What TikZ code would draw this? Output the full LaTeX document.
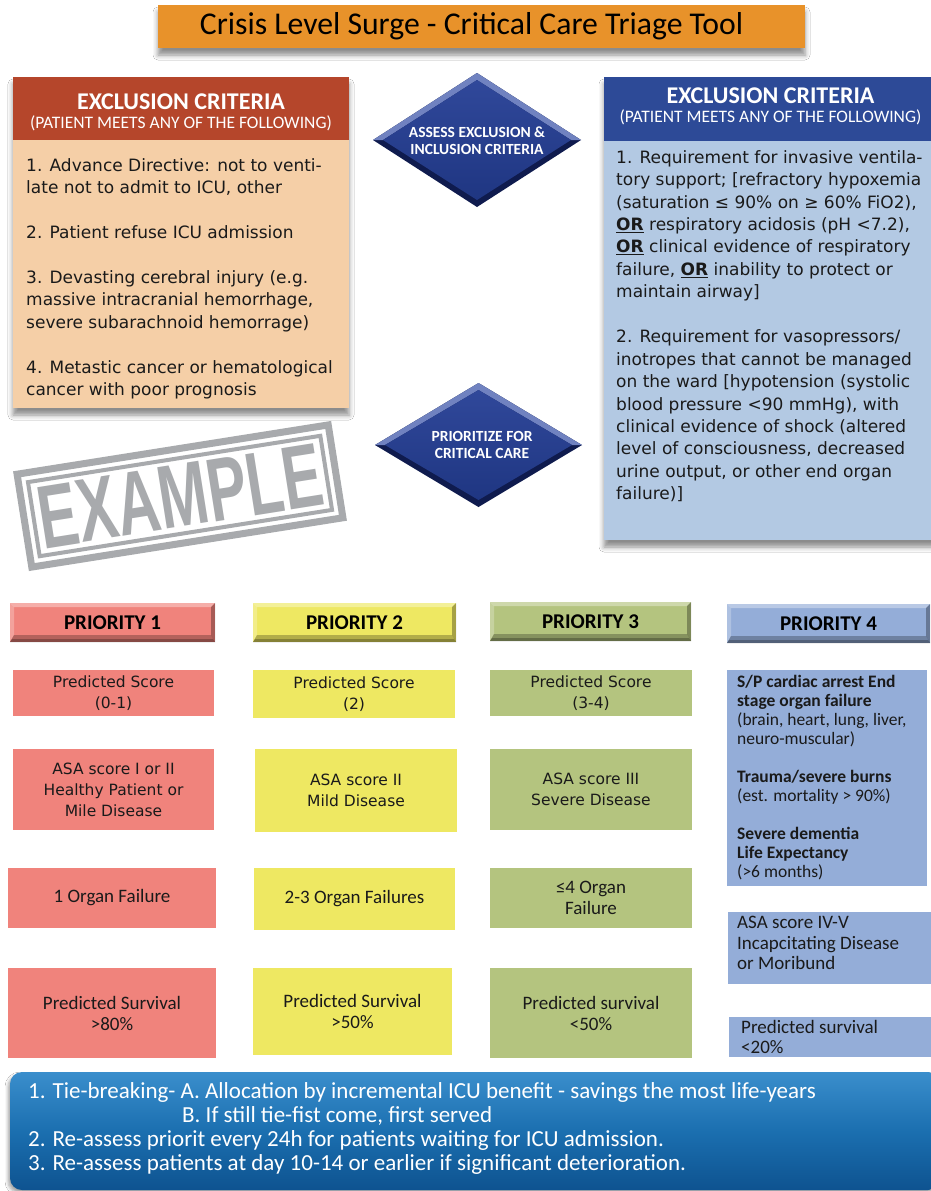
\documentclass[tikz,border=0pt]{standalone}
\usepackage{fontspec}
\setmainfont{Carlito}
\newfontfamily\dvs{DejaVu Sans}
\newfontfamily\stampfont[FakeStretch=0.66]{Liberation Sans}
\usetikzlibrary{shapes.geometric,shadows.blur}
\definecolor{titleor}{HTML}{E8922A}
\definecolor{lhead}{HTML}{B5462B}
\definecolor{lbody}{HTML}{F5CFA7}
\definecolor{rhead}{HTML}{2D4A97}
\definecolor{rbody}{HTML}{B3C9E3}
\definecolor{dmidtop}{HTML}{30489A}
\definecolor{dmidbot}{HTML}{1F3682}
\definecolor{dlight}{HTML}{7082C0}
\definecolor{ddark}{HTML}{0F1B4E}
\definecolor{pone}{HTML}{F0837C}
\definecolor{ptwo}{HTML}{EEE862}
\definecolor{pthree}{HTML}{B4C47F}
\definecolor{pfour}{HTML}{94ADD8}
\definecolor{stampgray}{HTML}{A8AAAD}
\definecolor{txt}{HTML}{1A1A1A}
\definecolor{notetop}{HTML}{3A8ECC}
\definecolor{notemid}{HTML}{1B6FB0}
\definecolor{notebot}{HTML}{0E5390}
\newcommand{\ORu}{\underline{\textbf{OR}}}
\begin{document}
\begin{tikzpicture}[x=1pt,y=-1pt,
  plain/.style={inner sep=0pt, outer sep=0pt, draw=none},
  shad/.style={blur shadow={shadow xshift=0pt, shadow yshift=-7pt, shadow blur radius=5pt, shadow opacity=45}},
  hdtitle/.style={inner sep=0pt, text=white, font=\fontsize{24}{28}\selectfont\bfseries},
  hdsub/.style={inner sep=0pt, text=white, font=\fontsize{17.5}{20}\selectfont},
  body/.style={inner sep=0pt, align=left, text=txt, font=\dvs\fontsize{17}{22.45}\selectfont},
  dtext/.style={inner sep=0pt, align=center, text=white, font=\fontsize{15.5}{16.5}\selectfont\bfseries},
  phead/.style={plain, minimum height=39pt, text=black, font=\fontsize{21}{24}\selectfont\bfseries},
  cellA/.style={plain, align=center, text=txt, font=\dvs\fontsize{15.5}{21}\selectfont},
  cellB/.style={plain, align=center, text=txt, font=\fontsize{19}{21}\selectfont},
  pfourtxt/.style={inner sep=0pt, align=left, text=txt, anchor=west},
  notetxt/.style={inner sep=0pt, align=left, text=white, anchor=west, font=\fontsize{23}{24.3}\selectfont}]
\useasboundingbox[fill=white] (0,0) rectangle (931,1191);

% title
\node[plain, fill=titleor, minimum width=647pt, minimum height=43pt, shad] (title) at (481.5,26.5) {};
\node[inner sep=0pt, font=\fontsize{31.7}{34}\selectfont, text=black] (titletxt) at (471.5,26.5) {Crisis Level Surge - Critical Care Triage Tool};

% left box
\node[plain, fill=lbody, minimum width=336pt, minimum height=331pt, shad] (lbox) at (181,242.5) {};
\node[plain, fill=lhead, minimum width=336pt, minimum height=63pt, anchor=north] (lhd) at (lbox.north) {};
\node[hdtitle] (lt1) at (181,102) {EXCLUSION CRITERIA};
\node[hdsub] (lt2) at (181,123) {(PATIENT MEETS ANY OF THE FOLLOWING)};
\node[body, anchor=north west] (ltx) at (26,158) {1. Advance Directive: not to venti-\\late not to admit to ICU, other\\[22.45pt]2. Patient refuse ICU admission\\[22.45pt]3. Devasting cerebral injury (e.g.\\massive intracranial hemorrhage,\\severe subarachnoid hemorrage)\\[22.45pt]4. Metastic cancer or hematological\\cancer with poor prognosis};

% right box
\node[plain, fill=rbody, minimum width=333pt, minimum height=463pt, shad] (rbox) at (770.5,308.5) {};
\node[plain, fill=rhead, minimum width=333pt, minimum height=64pt, anchor=north] (rhd) at (rbox.north) {};
\node[hdtitle] (rt1) at (770.5,96) {EXCLUSION CRITERIA};
\node[hdsub] (rt2) at (770.5,117) {(PATIENT MEETS ANY OF THE FOLLOWING)};
\node[body, anchor=north west] (rtx) at (616,150) {1. Requirement for invasive ventila-\\tory support; [refractory hypoxemia\\(saturation ≤ 90\% on ≥ 60\% FiO2),\\\ORu{} respiratory acidosis (pH <7.2),\\\ORu{} clinical evidence of respiratory\\failure, \ORu{} inability to protect or\\maintain airway]\\[22.45pt]2. Requirement for vasopressors/\\inotropes that cannot be managed\\on the ward [hypotension (systolic\\blood pressure <90 mmHg), with\\clinical evidence of shock (altered\\level of consciousness, decreased\\urine output, or other end organ\\failure)]};

% diamonds
\node[diamond, plain, fill=ddark, minimum width=208pt, minimum height=134pt] (da) at (477,140) {};
\fill[dlight] (da.west) -- (da.north) -- (da.east) -- ([xshift=-10pt]da.east) -- ([yshift=-7pt]da.north) -- ([xshift=10pt]da.west) -- cycle;
\shade[top color=dmidtop, bottom color=dmidbot] ([xshift=10pt]da.west) -- ([yshift=-7pt]da.north) -- ([xshift=-10pt]da.east) -- ([yshift=7pt]da.south) -- cycle;
\node[dtext] (dat) at (477,140.5) {ASSESS EXCLUSION \&\\INCLUSION CRITERIA};

\node[diamond, plain, fill=ddark, minimum width=207pt, minimum height=124pt] (db) at (478.5,445) {};
\fill[dlight] (db.west) -- (db.north) -- (db.east) -- ([xshift=-10pt]db.east) -- ([yshift=-7pt]db.north) -- ([xshift=10pt]db.west) -- cycle;
\shade[top color=dmidtop, bottom color=dmidbot] ([xshift=10pt]db.west) -- ([yshift=-7pt]db.north) -- ([xshift=-10pt]db.east) -- ([yshift=7pt]db.south) -- cycle;
\node[dtext] (dbt) at (482,445) {PRIORITIZE FOR\\CRITICAL CARE};

% stamp
\begin{scope}[shift={(180,496)}, rotate=9]
  \draw[stampgray, line width=7pt] (-157.5,-47) rectangle (157.5,47);
  \draw[stampgray, line width=4pt] (-148,-37.5) rectangle (148,37.5);
  \node[inner sep=0pt, transform shape, text=stampgray, font=\stampfont\bfseries\fontsize{90}{94}\selectfont] (stamp) at (0,0) {EXAMPLE};
\end{scope}

% priority headers
\node[phead, fill=pone, minimum width=205pt] (h1) at (112.5,622.5) {PRIORITY 1};
\node[phead, fill=ptwo, minimum width=203pt] (h2) at (354.5,622.5) {PRIORITY 2};
\node[phead, fill=pthree, minimum width=201pt] (h3) at (590.5,621.5) {PRIORITY 3};
\node[phead, fill=pfour, minimum width=203pt] (h4) at (828.5,623.5) {PRIORITY 4};
\foreach \n in {h1,h2,h3,h4} {
  \fill[white, opacity=.35] (\n.north west) -- (\n.north east) -- ([xshift=-4pt,yshift=-4pt]\n.north east) -- ([xshift=4pt,yshift=-4pt]\n.north west) -- cycle;
  \fill[white, opacity=.25] (\n.north west) -- ([xshift=4pt,yshift=-4pt]\n.north west) -- ([xshift=4pt,yshift=7pt]\n.south west) -- (\n.south west) -- cycle;
  \fill[black, opacity=.3] (\n.north east) -- (\n.south east) -- ([xshift=-4pt,yshift=7pt]\n.south east) -- ([xshift=-4pt,yshift=-4pt]\n.north east) -- cycle;
  \fill[black, opacity=.25] (\n.south west) -- (\n.south east) -- ([xshift=-4pt,yshift=7pt]\n.south east) -- ([xshift=4pt,yshift=7pt]\n.south west) -- cycle;
  \fill[black, opacity=.25] (\n.south west) -- (\n.south east) -- ([xshift=-2pt,yshift=3pt]\n.south east) -- ([xshift=2pt,yshift=3pt]\n.south west) -- cycle;
}

% row 1
\node[cellA, fill=pone, minimum width=201pt, minimum height=46pt] (a1) at (113.5,693) {Predicted Score\\(0-1)};
\node[cellA, fill=ptwo, minimum width=202pt, minimum height=48pt] (b1) at (354,694) {Predicted Score\\(2)};
\node[cellA, fill=pthree, minimum width=202pt, minimum height=46pt] (c1) at (591,693) {Predicted Score\\(3-4)};
\node[plain, fill=pfour, minimum width=200pt, minimum height=216pt] (d1) at (827,778) {};
\node[pfourtxt, font=\fontsize{17.5}{19}\selectfont] (d1t) at (737,778) {\textbf{S/P cardiac arrest End}\\\textbf{stage organ failure}\\(brain, heart, lung, liver,\\neuro-muscular)\\[19pt]\textbf{Trauma/severe burns}\\(est. mortality > 90\%)\\[19pt]\textbf{Severe dementia}\\\textbf{Life Expectancy}\\(>6 months)};

% row 2
\node[cellA, fill=pone, minimum width=201pt, minimum height=81pt] (a2) at (113.5,789.5) {ASA score I or II\\Healthy Patient or\\Mile Disease};
\node[cellA, fill=ptwo, minimum width=202pt, minimum height=83pt] (b2) at (356,790.5) {ASA score II\\Mild Disease};
\node[cellA, fill=pthree, minimum width=202pt, minimum height=81pt] (c2) at (591,789.5) {ASA score III\\Severe Disease};

% row 3
\node[cellB, fill=pone, minimum width=208pt, minimum height=60pt] (a3) at (112,898) {1 Organ Failure};
\node[cellB, fill=ptwo, minimum width=201pt, minimum height=62pt] (b3) at (354.5,899) {2-3 Organ Failures};
\node[cellB, fill=pthree, minimum width=202pt, minimum height=60pt] (c3) at (591,898) {≤4 Organ\\Failure};
\node[plain, fill=pfour, minimum width=207pt, minimum height=72pt] (d3) at (831.5,948) {};
\node[pfourtxt, font=\fontsize{19}{20.5}\selectfont] (d3t) at (737,943) {ASA score IV-V\\Incapcitating Disease\\or Moribund};

% row 4
\node[cellB, fill=pone, minimum width=208pt, minimum height=90pt] (a4) at (112,1013) {Predicted Survival\\>80\%};
\node[cellB, fill=ptwo, minimum width=199pt, minimum height=87pt] (b4) at (352.5,1011.5) {Predicted Survival\\>50\%};
\node[cellB, fill=pthree, minimum width=202pt, minimum height=90pt] (c4) at (591,1013) {Predicted survival\\<50\%};
\node[plain, fill=pfour, minimum width=207pt, minimum height=40pt] (d4) at (832.5,1037) {};
\node[pfourtxt, font=\fontsize{19}{20.5}\selectfont] (d4t) at (741,1037) {Predicted survival\\<20\%};

% note box
\node[plain, rounded corners=12pt, top color=notetop, bottom color=notebot, middle color=notemid,
      minimum width=930pt, minimum height=118pt,
      blur shadow={shadow xshift=-2pt, shadow yshift=-3pt, shadow blur radius=3pt, shadow opacity=35}] (note) at (475,1131) {};
\node[notetxt] (ntx) at (28,1128.5) {1. Tie-breaking- A. Allocation by incremental ICU benefit - savings the most life-years\\\hspace*{154pt}B. If still tie-fist come, first served\\2. Re-assess priorit every 24h for patients waiting for ICU admission.\\3. Re-assess patients at day 10-14 or earlier if significant deterioration.};
\end{tikzpicture}
\end{document}
